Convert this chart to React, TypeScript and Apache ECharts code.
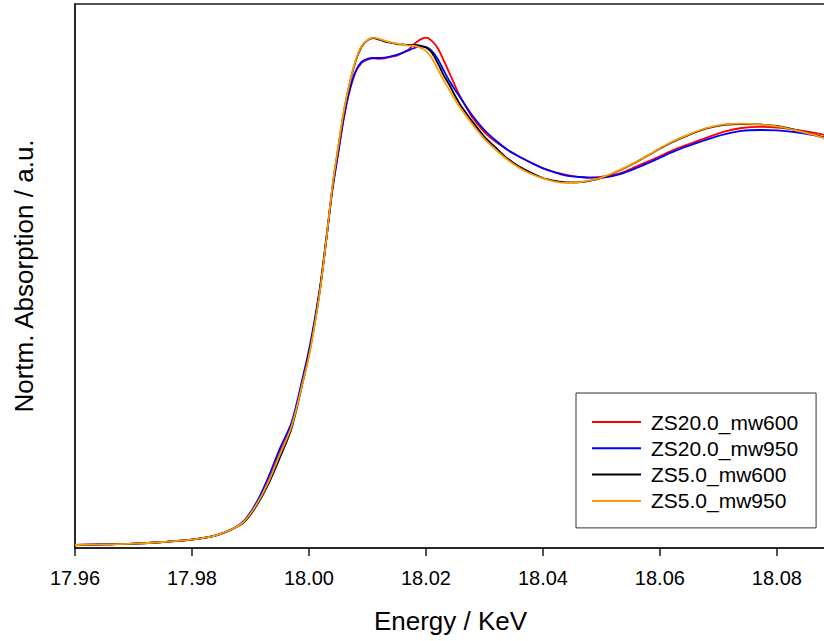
import { useEffect, useRef } from "react";
import * as echarts from "echarts";

// Photon energy grid (keV)
const energy = [
  17.96, 17.965, 17.97, 17.975, 17.98, 17.984, 17.987, 17.989, 17.991, 17.993,
  17.995, 17.997, 17.999, 18.0, 18.001, 18.002, 18.003, 18.004, 18.005, 18.006,
  18.007, 18.008, 18.009, 18.01, 18.011, 18.012, 18.013, 18.014, 18.015, 18.016,
  18.017, 18.018, 18.019, 18.02, 18.021, 18.022, 18.023, 18.024, 18.025, 18.026,
  18.028, 18.03, 18.032, 18.034, 18.036, 18.038, 18.04, 18.042, 18.044, 18.046,
  18.048, 18.05, 18.053, 18.056, 18.059, 18.062, 18.065, 18.068, 18.071, 18.074,
  18.077, 18.08, 18.083, 18.086, 18.089,
];

// Normalized absorption for each sample
const zs20Mw600 = [
  0.0075, 0.009, 0.011, 0.015, 0.021, 0.031, 0.048, 0.068, 0.108, 0.165,
  0.238, 0.305, 0.423, 0.488, 0.568, 0.66, 0.775, 0.895, 0.988, 1.078,
  1.145, 1.19, 1.213, 1.221, 1.224, 1.223, 1.224, 1.228, 1.231, 1.238,
  1.246, 1.26, 1.271, 1.276, 1.268, 1.25, 1.22, 1.188, 1.155, 1.125,
  1.075, 1.04, 1.015, 0.995, 0.978, 0.963, 0.95, 0.94, 0.933, 0.928,
  0.926, 0.928, 0.936, 0.954, 0.973, 0.993, 1.01, 1.026, 1.041, 1.05,
  1.053, 1.051, 1.046, 1.039, 1.03,
];
const zs20Mw950 = [
  0.0075, 0.009, 0.011, 0.015, 0.021, 0.031, 0.048, 0.07, 0.113, 0.175,
  0.248, 0.313, 0.43, 0.495, 0.573, 0.663, 0.778, 0.895, 0.988, 1.08,
  1.148, 1.193, 1.215, 1.223, 1.225, 1.225, 1.226, 1.229, 1.233, 1.238,
  1.244, 1.25, 1.254, 1.253, 1.243, 1.223, 1.195, 1.168, 1.145, 1.123,
  1.08, 1.045, 1.018, 0.995, 0.978, 0.963, 0.949, 0.939, 0.931, 0.928,
  0.926, 0.926, 0.934, 0.95, 0.969, 0.989, 1.006, 1.021, 1.034, 1.043,
  1.045, 1.044, 1.04, 1.033, 1.023,
];
const zs5Mw600 = [
  0.0075, 0.009, 0.011, 0.015, 0.021, 0.031, 0.048, 0.066, 0.105, 0.158,
  0.225, 0.298, 0.418, 0.483, 0.563, 0.658, 0.775, 0.9, 1.0, 1.093,
  1.163, 1.218, 1.253, 1.269, 1.275, 1.271, 1.266, 1.263, 1.26, 1.259,
  1.258, 1.258, 1.256, 1.251, 1.238, 1.213, 1.183, 1.158, 1.13, 1.105,
  1.065, 1.028, 1.0, 0.973, 0.953, 0.938, 0.925, 0.918, 0.914, 0.914,
  0.918, 0.925, 0.943, 0.965, 0.99, 1.014, 1.033, 1.049, 1.058, 1.06,
  1.059, 1.055, 1.046, 1.035, 1.023,
];
const zs5Mw950 = [
  0.0075, 0.009, 0.011, 0.015, 0.021, 0.031, 0.048, 0.068, 0.108, 0.163,
  0.233, 0.303, 0.418, 0.48, 0.56, 0.655, 0.775, 0.903, 1.003, 1.095,
  1.165, 1.22, 1.255, 1.27, 1.276, 1.273, 1.268, 1.264, 1.261, 1.259,
  1.256, 1.255, 1.251, 1.243, 1.225, 1.198, 1.17, 1.145, 1.12, 1.098,
  1.058, 1.023, 0.995, 0.97, 0.95, 0.935, 0.924, 0.916, 0.913, 0.914,
  0.919, 0.926, 0.944, 0.966, 0.991, 1.015, 1.034, 1.05, 1.059, 1.061,
  1.059, 1.054, 1.045, 1.034, 1.02,
];

const seriesNames = ["ZS20.0_mw600", "ZS20.0_mw950", "ZS5.0_mw600", "ZS5.0_mw950"];
const seriesValues = [zs20Mw600, zs20Mw950, zs5Mw600, zs5Mw950];
const seriesColors = ["#ff0000", "#0000ff", "#000000", "#ff9900"];

const xTickLabels = [17.96, 17.98, 18.0, 18.02, 18.04, 18.06, 18.08];

const FONT = 'Arial, "Liberation Sans", Helvetica, sans-serif';

export default function App() {
  const ref = useRef<HTMLDivElement>(null);

  useEffect(() => {
    if (!ref.current) return;
    const chart = echarts.init(ref.current, undefined, { renderer: "svg" });

    chart.setOption({
      animation: false,
      backgroundColor: "#ffffff",
      textStyle: { fontFamily: FONT },
      grid: {
        left: 75,
        top: 4,
        width: 751,
        height: 544,
        show: true,
        borderColor: "#1a1a1a",
        borderWidth: 1.5,
        backgroundColor: "transparent",
      },
      legend: {
        orient: "vertical",
        left: 576,
        top: 393,
        padding: [16, 18, 14, 16],
        itemGap: 0.3,
        itemWidth: 49,
        itemHeight: 2,
        icon: "rect",
        borderColor: "#333333",
        borderWidth: 1,
        backgroundColor: "#ffffff",
        textStyle: {
          fontFamily: FONT,
          fontSize: 21,
          lineHeight: 26,
          color: "#000000",
          padding: [0, 0, 0, 5],
        },
        data: seriesNames,
      },
      xAxis: {
        type: "value",
        min: 17.96,
        max: 18.0884,
        interval: 0.02,
        name: "Energy / KeV",
        nameLocation: "middle",
        nameGap: 60,
        nameTextStyle: { fontFamily: FONT, fontSize: 26, color: "#000000" },
        axisLine: { show: true, lineStyle: { color: "#1a1a1a", width: 1.5 } },
        axisTick: { show: true, inside: false, length: 8, lineStyle: { color: "#1a1a1a", width: 1.5 } },
        axisLabel: {
          margin: 20,
          fontFamily: FONT,
          fontSize: 20,
          color: "#000000",
          formatter: (v: number) => {
            const hit = xTickLabels.find((t) => Math.abs(t - v) < 1e-6);
            return hit !== undefined ? hit.toFixed(2) : "";
          },
        },
        splitLine: { show: false },
      },
      yAxis: {
        type: "value",
        min: 0,
        max: 1.36,
        name: "Nortm. Absorption / a.u.",
        nameLocation: "middle",
        nameGap: 38,
        nameTextStyle: { fontFamily: FONT, fontSize: 26, color: "#000000" },
        axisLine: { show: true, lineStyle: { color: "#1a1a1a", width: 1.5 } },
        axisTick: { show: false },
        axisLabel: { show: false },
        splitLine: { show: false },
      },
      series: seriesNames.map((name, i) => ({
        name,
        type: "line",
        data: energy.map((e, j) => [e, seriesValues[i][j]]),
        color: seriesColors[i],
        showSymbol: false,
        symbol: "none",
        smooth: 0.3,
        clip: true,
        lineStyle: { color: seriesColors[i], width: 1.8 },
      })),
    });

    return () => chart.dispose();
  }, []);

  return (
    <div
      ref={ref}
      style={{ position: "fixed", left: 0, top: 0, width: 840, height: 641, background: "#ffffff" }}
    />
  );
}
